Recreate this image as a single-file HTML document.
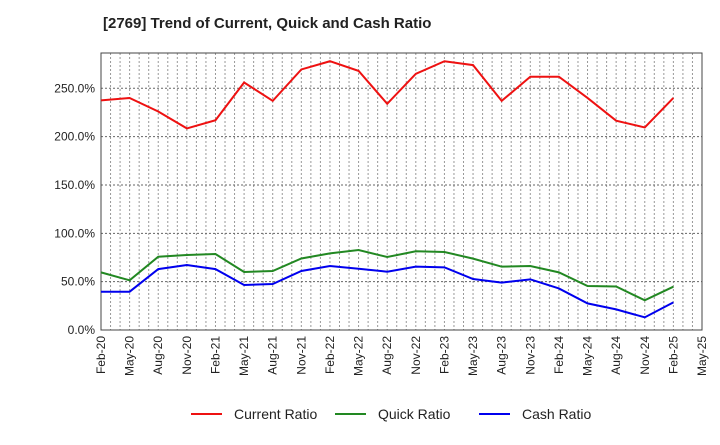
<!DOCTYPE html>
<html><head><meta charset="utf-8"><style>
body{margin:0;background:#fff;font-family:"Liberation Sans",Arial,sans-serif}
svg text{font-family:"Liberation Sans",Arial,sans-serif}
</style></head><body>
<svg id="chart" width="720" height="440" xmlns="http://www.w3.org/2000/svg">
<text x="103" y="28" font-size="15" font-weight="bold" fill="#222">[2769]  Trend of Current, Quick and Cash Ratio</text>
<g id="grid"></g><g id="axes"></g><g id="series"></g><g id="legend"></g>
</svg>
<script>
const xLabels=["Feb-20","May-20","Aug-20","Nov-20","Feb-21","May-21","Aug-21","Nov-21","Feb-22","May-22","Aug-22","Nov-22","Feb-23","May-23","Aug-23","Nov-23","Feb-24","May-24","Aug-24","Nov-24","Feb-25","May-25"];
const yTicks=[0,50,100,150,200,250];
const currentRatio=[237.5,240,226,208.5,217,256,237,269.5,278,268,234,265,278,274,237,262,262,240,216.5,209.5,240];
const quickRatio=[59.6,51.4,75.8,77.6,78.6,60,61,74,79.3,82.7,75.5,81.4,80.7,73.8,65.5,66.2,59.6,45.5,45,30.7,44.8];
const cashRatio=[39.6,39.6,63,67.2,63,46.5,47.6,61,66.2,63.4,60.3,65.5,64.8,52.7,49,52.4,43,27.5,21.3,13.1,28.6];
const L=101,R=702,T=53,B=330,NQ=xLabels.length-1;
const xs=i=>L+i*(R-L)/NQ;
const ys=v=>B-v*(B-88.3)/250;
const NS="http://www.w3.org/2000/svg";
function mk(t,a,p){const e=document.createElementNS(NS,t);for(const k in a)e.setAttribute(k,a[k]);p.appendChild(e);return e;}
const grid=document.getElementById('grid'),axes=document.getElementById('axes'),ser=document.getElementById('series'),leg=document.getElementById('legend');
for(let m=1;m<NQ*3;m++){const x=L+m*(R-L)/(NQ*3);
const g=mk('line',{x1:x,x2:x,y1:T,y2:B,stroke:'#999','stroke-width':1,'stroke-dasharray':'2,2'},grid);

}
yTicks.forEach(v=>{const y=ys(v);
const g=mk('line',{x1:L,x2:R,y1:y,y2:y,stroke:'#666','stroke-width':1,'stroke-dasharray':'2,2'},grid);


const t=mk('text',{x:L-6,y:y+4,'text-anchor':'end','font-size':12,fill:'#222'},axes);t.textContent=v.toFixed(1)+'%';

});
const fr=mk('rect',{x:L,y:T,width:R-L,height:B-T,fill:'none',stroke:'#444','stroke-width':1},axes);


xLabels.forEach((l,i)=>{const x=xs(i);
const t=mk('text',{x:0,y:0,'text-anchor':'end','font-size':12,fill:'#222',transform:`translate(${x+4},${B+6}) rotate(-90)`},axes);t.textContent=l;

});
const series=[["Current Ratio",currentRatio,"#ee1111"],["Quick Ratio",quickRatio,"#228822"],["Cash Ratio",cashRatio,"#0000ee"]];
series.forEach(([n,d,c],k)=>{
const p=mk('polyline',{points:d.map((v,i)=>xs(i)+','+ys(v)).join(' '),fill:'none',stroke:c,'stroke-width':2},ser);


const lx=[191,335,479][k];
const ll=mk('line',{x1:lx,x2:lx+31,y1:414,y2:414,stroke:c,'stroke-width':2},leg);


const lt=mk('text',{x:lx+43,y:419,'font-size':14,fill:'#222'},leg);lt.textContent=n;

});
</script>
</body></html>
